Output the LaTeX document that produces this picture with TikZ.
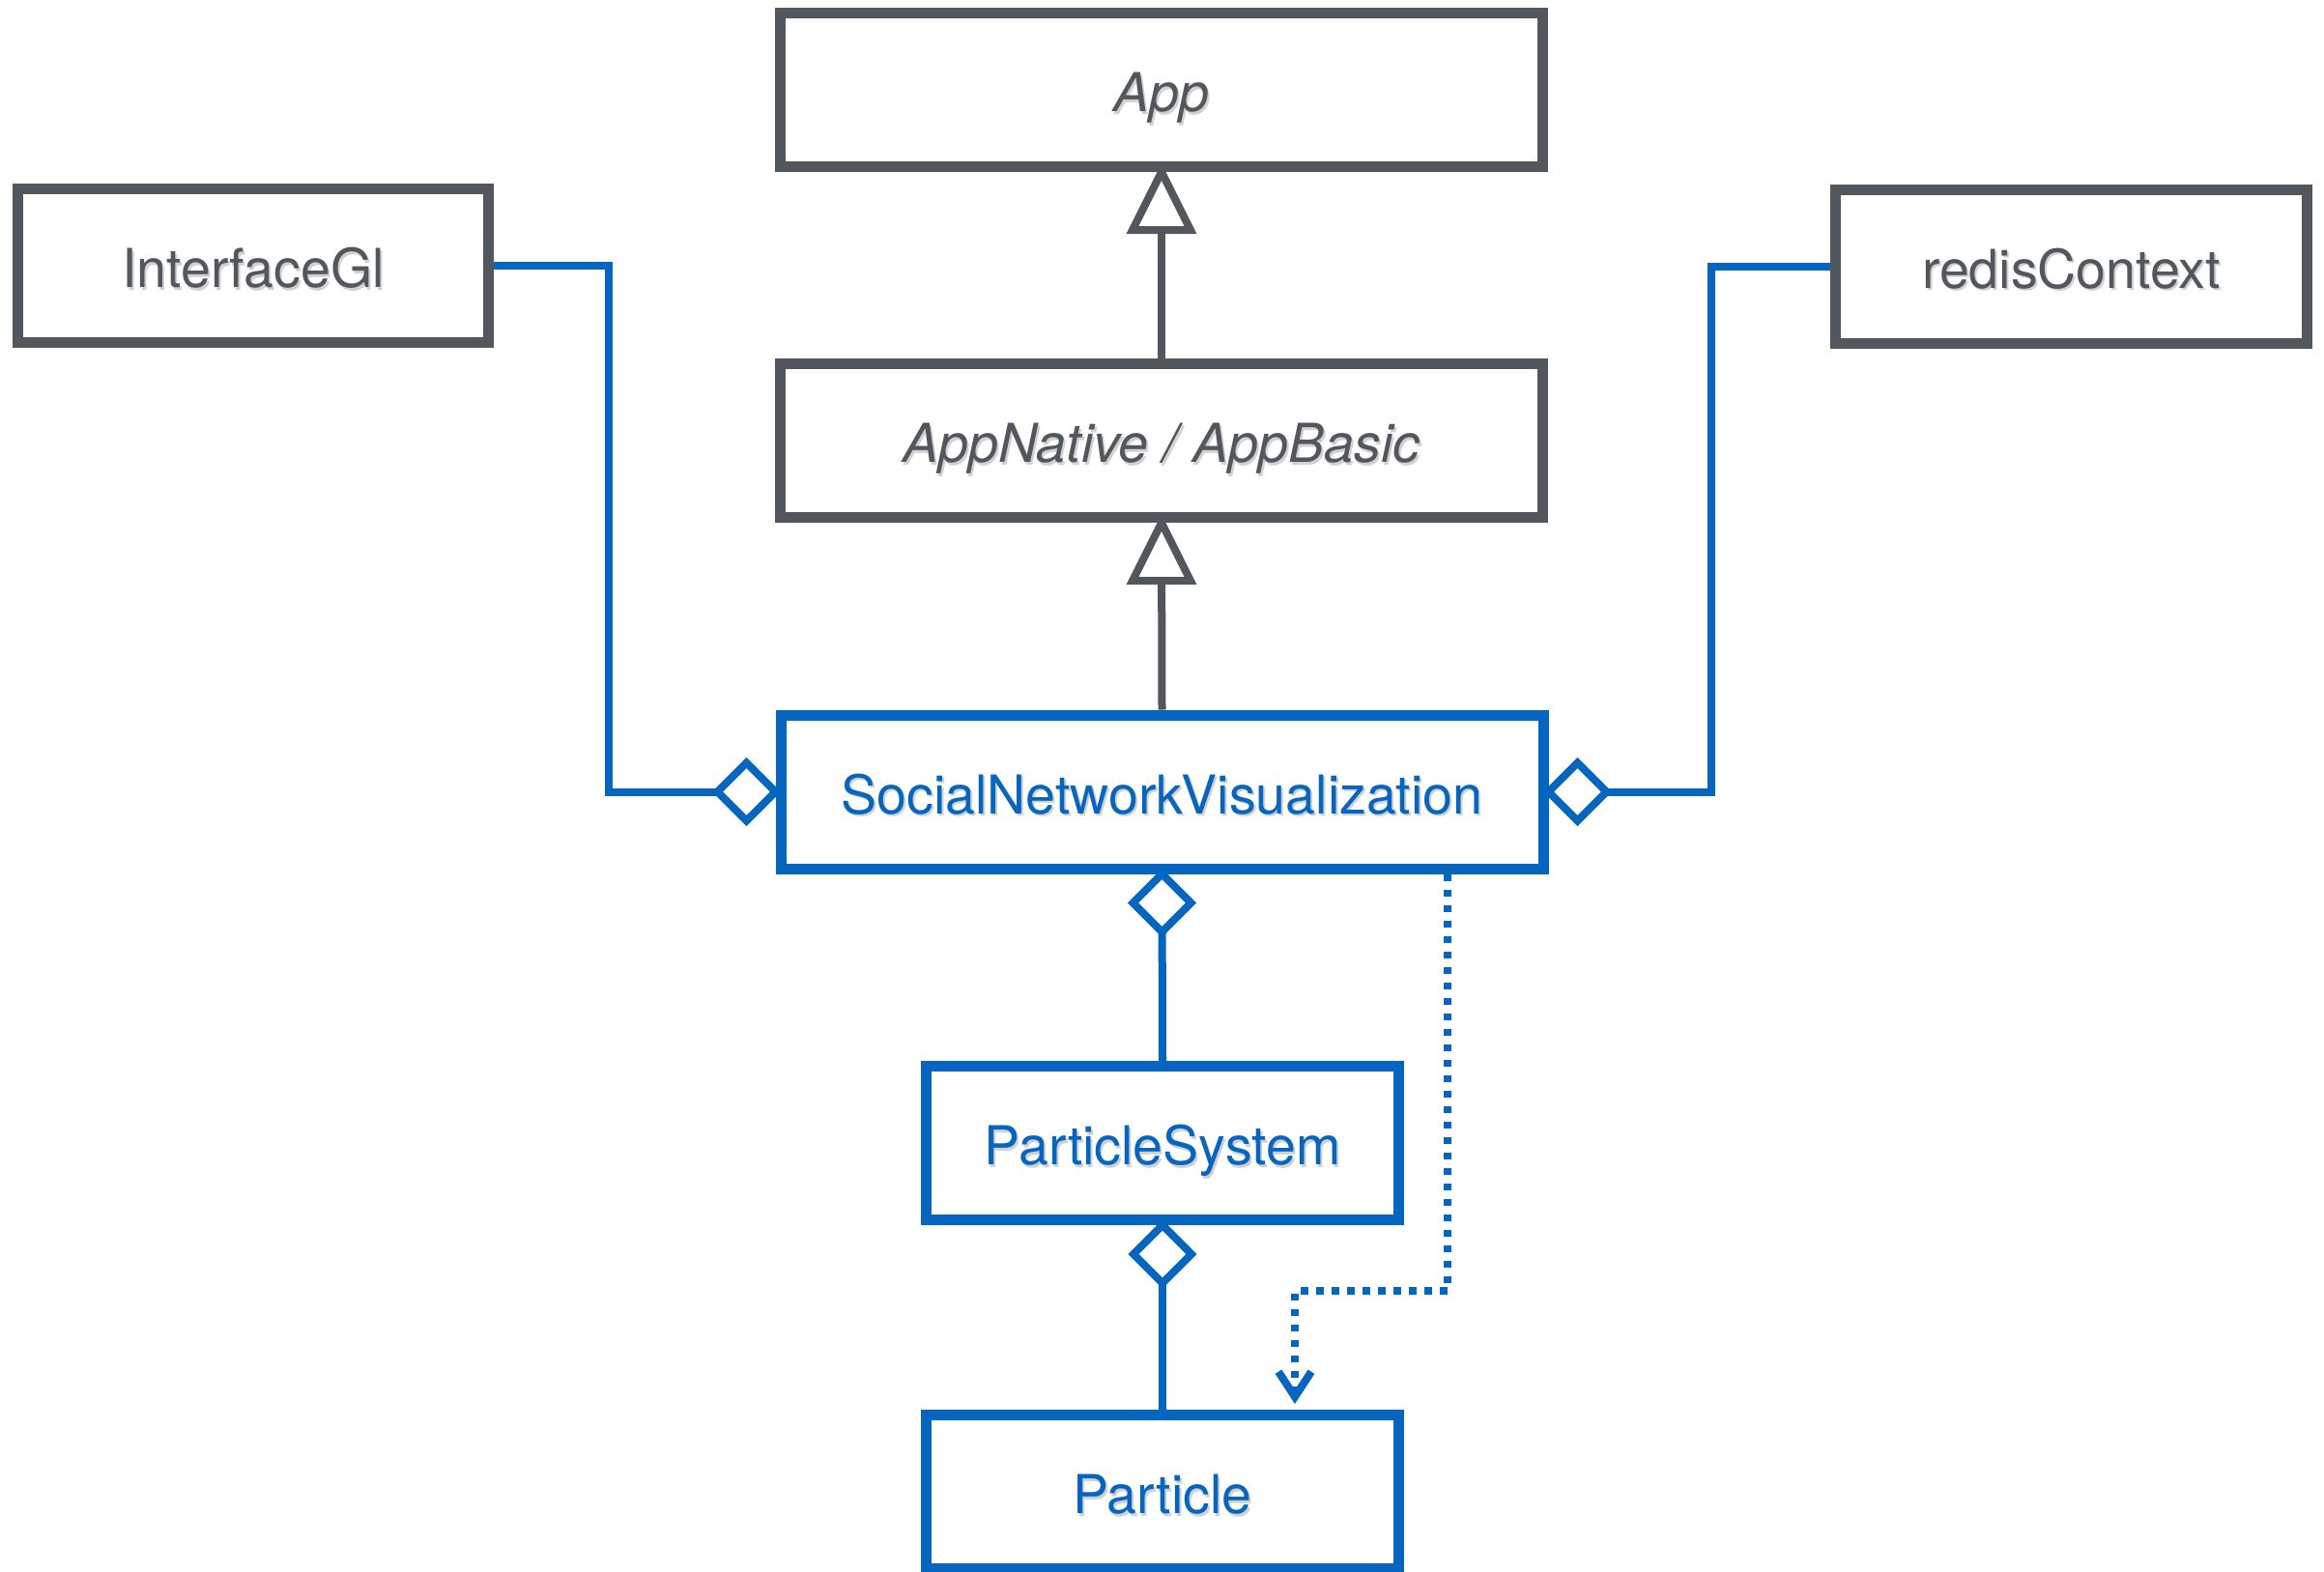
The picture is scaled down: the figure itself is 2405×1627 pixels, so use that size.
\documentclass[tikz,border=0pt]{standalone}
\usepackage{fontspec}
\setmainfont{TeX Gyre Heros}
\usetikzlibrary{arrows.meta}

\definecolor{umlgray}{RGB}{82,86,93}
\definecolor{umlblue}{RGB}{5,101,191}

% label with a soft grey drop shadow behind it
\newcommand\shadowtxt[1]{\rlap{\raisebox{-1.4pt}[0pt][0pt]{\hspace{1pt}\textcolor{black!18}{#1}}}#1}

\begin{document}
\begin{tikzpicture}[x=0.5pt,y=-0.5pt,
  cls/.style={draw, line width=5.5pt, fill=white, inner sep=0pt,
    minimum height=79.5pt, font=\fontsize{27.75}{30}\selectfont,
    text height=22.5pt, text depth=0pt},
  graycls/.style={cls, draw=umlgray, text=umlgray},
  bluecls/.style={cls, draw=umlblue, text=umlblue},
  inhline/.style={draw=umlgray, line width=4pt},
  inhtri/.style={draw=umlgray, fill=white, line width=4pt, line join=miter},
  assoc/.style={draw=umlblue, line width=4pt, line join=miter},
  aggr/.style={draw=umlblue, fill=white, line width=4pt, line join=miter},
  dep/.style={draw=umlblue, line width=4pt, dash pattern=on 3.75pt off 4.25pt,
    -{Straight Barb[length=13pt,width=17pt,line width=4pt]}, shorten >=3pt}]

\fill[white] (0,0) rectangle (2405,1627);
\useasboundingbox (0,0) rectangle (2405,1627);

% classes
\node[graycls, minimum width=394.5pt] (app)   at (1202,93)    {\shadowtxt{\itshape App}};
\node[graycls, minimum width=394.5pt] (appn)  at (1202,456)   {\shadowtxt{\itshape AppNative / AppBasic}};
\node[bluecls, minimum width=394.5pt] (snv)   at (1202.5,819.5) {\shadowtxt{SocialNetworkVisualization}};
\node[graycls, minimum width=243.5pt] (igl)   at (262,275)    {\shadowtxt{InterfaceGl}};
\node[graycls, minimum width=244pt]   (redis) at (2143.5,275.5) {\shadowtxt{redisContext}};
\node[bluecls, minimum width=244.5pt] (psys)  at (1203,1183)  {\shadowtxt{ParticleSystem}};
\node[bluecls, minimum width=244.5pt] (part)  at (1203,1544)  {\shadowtxt{Particle}};

% bends of the side associations and of the dependency
\coordinate (lbend) at (630,500);
\coordinate (rbend) at (1770.5,500);
\coordinate (dc1) at (1498,1336);
\coordinate (dc2) at (1340,1336);

% generalisations
\draw[inhline] (appn.north) -- (app.south);
\draw[inhtri] (app.south) -- ++(-30,60) -- ++(60,0) -- cycle;
\draw[inhline] (snv.north) -- (appn.south);
\draw[inhtri] (appn.south) -- ++(-30,60) -- ++(60,0) -- cycle;

% aggregations
\draw[assoc] (igl.east) -| (lbend) |- (snv.west);
\draw[aggr] (snv.west) -- ++(-30,-30) -- ++(-30,30) -- ++(30,30) -- cycle;
\draw[assoc] (redis.west) -| (rbend) |- (snv.east);
\draw[aggr] (snv.east) -- ++(30,-30) -- ++(30,30) -- ++(-30,30) -- cycle;
\draw[assoc] (psys.north) -- (snv.south);
\draw[aggr] (snv.south) -- ++(-30,30) -- ++(30,30) -- ++(30,-30) -- cycle;
\draw[assoc] (part.north) -- (psys.south);
\draw[aggr] (psys.south) -- ++(-30,30) -- ++(30,30) -- ++(30,-30) -- cycle;

% usage dependency
\draw[dep] (snv.south -| dc1) -- (dc1) -- (dc2) -- (dc2 |- part.north);

\end{tikzpicture}
\end{document}
